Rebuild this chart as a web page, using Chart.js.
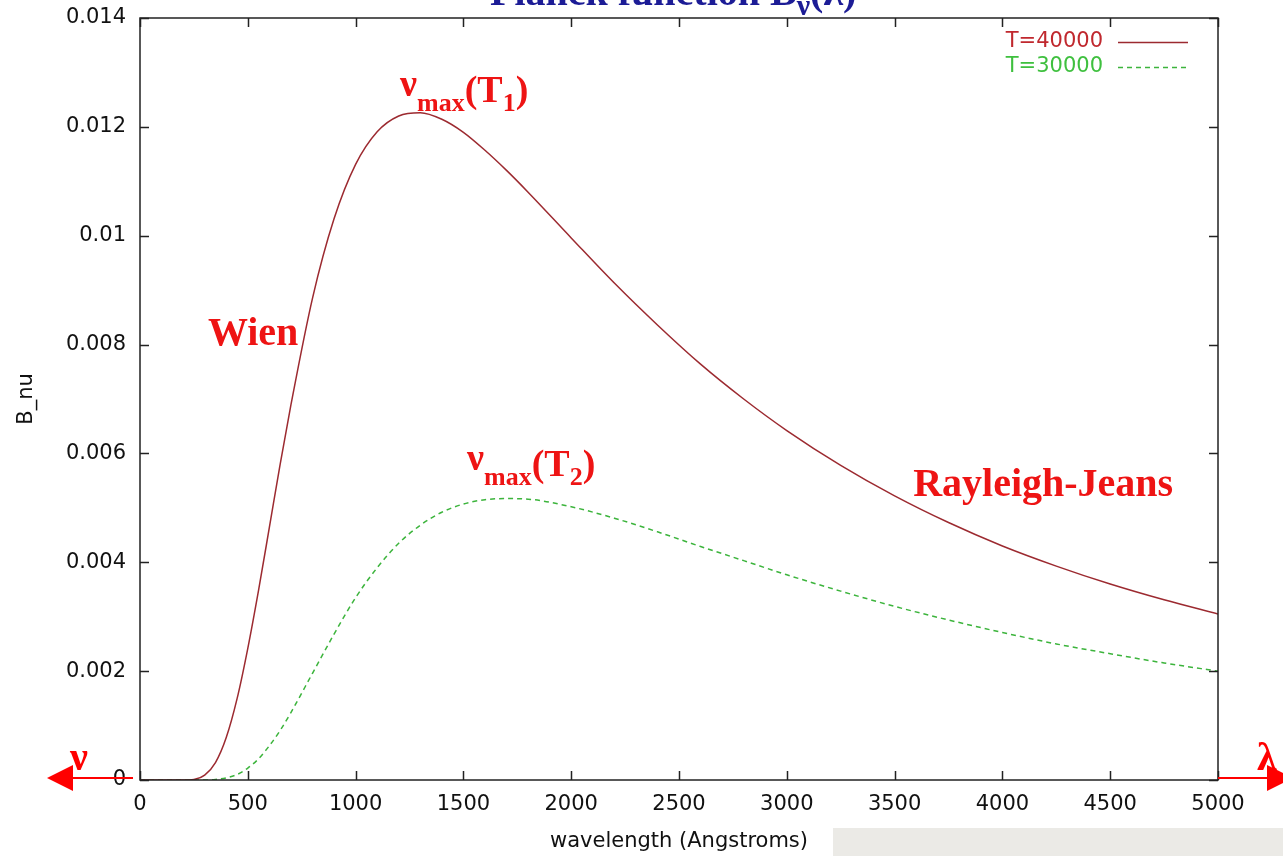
<!DOCTYPE html>
<html>
<head>
<meta charset="utf-8">
<title>Planck function</title>
<script src="https://cdn.jsdelivr.net/npm/chart.js@4.4.1/dist/chart.umd.min.js"></script>
<style>
  html, body { margin: 0; padding: 0; background: #fff; }
  #chart { display: block; }
</style>
</head>
<body>
<canvas id="chart" width="1283" height="856"></canvas>
<script>
// values (B_nu vs wavelength in Angstroms)
var wavelength = [0, 100, 200, 250, 300, 350, 400, 450, 500, 550, 600, 650, 700, 800, 900, 1000, 1100, 1200, 1300, 1400, 1500, 1600, 1700, 1800, 2000, 2200, 2400, 2600, 2800, 3000, 3250, 3500, 3750, 4000, 4250, 4500, 4750, 5000];
var bnuT40000 = [0, 0, 0, 0.00001, 0.00009, 0.00032, 0.00078, 0.00149, 0.00242, 0.00349, 0.00464, 0.0058, 0.00689, 0.00885, 0.01031, 0.01131, 0.01191, 0.0122, 0.01226, 0.01214, 0.0119, 0.01157, 0.0112, 0.0108, 0.00996, 0.00913, 0.00836, 0.00764, 0.007, 0.00642, 0.00578, 0.00522, 0.00473, 0.0043, 0.00393, 0.0036, 0.00331, 0.00305];
var bnuT30000 = [0, 0, 0, 0, 0, 0.00001, 0.00004, 0.0001, 0.00022, 0.00039, 0.00063, 0.00091, 0.00124, 0.00196, 0.00268, 0.00335, 0.0039, 0.00435, 0.00468, 0.00492, 0.00507, 0.00515, 0.00517, 0.00516, 0.00502, 0.00481, 0.00456, 0.00429, 0.00403, 0.00377, 0.00347, 0.00319, 0.00294, 0.00271, 0.0025, 0.00232, 0.00215, 0.002];
var seriesLabels = ['T=40000', 'T=30000'];
var xTicks = [0, 500, 1000, 1500, 2000, 2500, 3000, 3500, 4000, 4500, 5000];
var yTicks = [0, 0.002, 0.004, 0.006, 0.008, 0.01, 0.012, 0.014];

var axisFont = { family: 'DejaVu Sans', size: 21 };
var serif = '"Liberation Serif", "Times New Roman", serif';
var annoRed = '#ee1414';

function pairs(ys) {
  return wavelength.map(function (w, i) { return { x: w, y: ys[i] }; });
}

// gnuplot style frame, inward ticks and key
var gnuplotFrame = {
  id: 'gnuplotFrame',
  beforeDraw: function (chart) {
    var ctx = chart.ctx;
    ctx.save();
    ctx.fillStyle = '#ebeae6';
    ctx.fillRect(833, 828, chart.width - 833, chart.height - 828);
    ctx.restore();
  },
  afterDatasetsDraw: function (chart) {
    var ctx = chart.ctx, a = chart.chartArea;
    var sx = chart.scales.x, sy = chart.scales.y;
    ctx.save();
    ctx.strokeStyle = '#222';
    ctx.lineWidth = 1.5;
    ctx.strokeRect(a.left, a.top, a.right - a.left, a.bottom - a.top);
    var tl = 9;
    ctx.beginPath();
    xTicks.forEach(function (v) {
      var px = Math.round(sx.getPixelForValue(v)) + 0.5;
      ctx.moveTo(px, a.bottom); ctx.lineTo(px, a.bottom - tl);
      ctx.moveTo(px, a.top); ctx.lineTo(px, a.top + tl);
    });
    yTicks.forEach(function (v) {
      var py = Math.round(sy.getPixelForValue(v)) + 0.5;
      ctx.moveTo(a.left, py); ctx.lineTo(a.left + tl, py);
      ctx.moveTo(a.right, py); ctx.lineTo(a.right - tl, py);
    });
    ctx.stroke();

    // key
    ctx.font = '21px "DejaVu Sans"';
    ctx.textAlign = 'right';
    ctx.textBaseline = 'middle';
    var keyText = ['#c0282e', '#3fc03f'];
    chart.data.datasets.forEach(function (ds, i) {
      var y = a.top + 24 + i * 25;
      ctx.fillStyle = keyText[i];
      ctx.fillText(ds.label, a.right - 115, y);
      ctx.strokeStyle = ds.borderColor;
      ctx.lineWidth = 1.5;
      ctx.setLineDash(ds.borderDash || []);
      ctx.beginPath();
      ctx.moveTo(a.right - 100, y + 0.5);
      ctx.lineTo(a.right - 30, y + 0.5);
      ctx.stroke();
    });
    ctx.setLineDash([]);
    ctx.restore();
  },
  afterDraw: function (chart) {
    var ctx = chart.ctx, a = chart.chartArea;
    var sx = chart.scales.x, sy = chart.scales.y;
    ctx.save();

    // title, clipped by the top of the page
    ctx.fillStyle = '#1c1c96';
    ctx.textBaseline = 'alphabetic';
    ctx.textAlign = 'left';
    ctx.font = 'bold 40px ' + serif;
    var tx = 490;
    ctx.fillText('Planck function B', tx, 5);
    tx += ctx.measureText('Planck function B').width;
    ctx.font = 'bold 30px ' + serif;
    ctx.fillText('\u03bd', tx, 15);
    tx += ctx.measureText('\u03bd').width;
    ctx.font = 'bold 40px ' + serif;
    ctx.fillText('(\u03bb)', tx, 5);

    // annotations
    ctx.fillStyle = annoRed;
    ctx.font = 'bold 40px ' + serif;
    ctx.fillText('Wien', sx.getPixelForValue(315), sy.getPixelForValue(0.00799));
    ctx.fillText('Rayleigh-Jeans', sx.getPixelForValue(3586), sy.getPixelForValue(0.00522));

    function numax(lam, b, sub) {
      var x = sx.getPixelForValue(lam), y = sy.getPixelForValue(b);
      ctx.font = 'bold 38px ' + serif;
      ctx.fillText('\u03bd', x, y - 6);
      x += ctx.measureText('\u03bd').width;
      ctx.font = 'bold 26px ' + serif;
      ctx.fillText('max', x, y + 9);
      x += ctx.measureText('max').width;
      ctx.font = 'bold 38px ' + serif;
      ctx.fillText('(T', x, y);
      x += ctx.measureText('(T').width;
      ctx.font = 'bold 26px ' + serif;
      ctx.fillText(sub, x, y + 9);
      x += ctx.measureText(sub).width;
      ctx.font = 'bold 38px ' + serif;
      ctx.fillText(')', x, y);
    }
    numax(1206, 0.01246, '1');
    numax(1517, 0.00558, '2');

    // nu / lambda arrows along the wavelength axis
    var ay = a.bottom - 2;
    ctx.strokeStyle = '#ff0000';
    ctx.fillStyle = '#ff0000';
    ctx.lineWidth = 2;
    ctx.beginPath();
    ctx.moveTo(a.left - 7, ay); ctx.lineTo(70, ay);
    ctx.moveTo(a.right, ay); ctx.lineTo(a.right + 50, ay);
    ctx.stroke();
    ctx.beginPath();
    ctx.moveTo(47, ay); ctx.lineTo(73, ay - 13); ctx.lineTo(73, ay + 13); ctx.closePath();
    ctx.fill();
    ctx.beginPath();
    ctx.moveTo(a.right + 75, ay); ctx.lineTo(a.right + 49, ay - 13); ctx.lineTo(a.right + 49, ay + 13); ctx.closePath();
    ctx.fill();
    ctx.font = 'bold 40px ' + serif;
    ctx.fillText('\u03bd', 70, ay - 8);
    ctx.fillText('\u03bb', a.right + 39, ay - 8);
    ctx.restore();
  }
};

new Chart('chart', {
  type: 'line',
  data: {
    datasets: [
      {
        label: seriesLabels[0],
        data: pairs(bnuT40000),
        borderColor: '#9c2a30',
        borderWidth: 1.5,
        pointRadius: 0,
        cubicInterpolationMode: 'monotone',
        fill: false
      },
      {
        label: seriesLabels[1],
        data: pairs(bnuT30000),
        borderColor: '#3cb43c',
        borderWidth: 1.5,
        borderDash: [5, 4],
        pointRadius: 0,
        cubicInterpolationMode: 'monotone',
        fill: false
      }
    ]
  },
  options: {
    responsive: false,
    animation: false,
    layout: { padding: { top: 18, right: 65, left: 0, bottom: 0 } },
    plugins: {
      legend: { display: false },
      tooltip: { enabled: false }
    },
    scales: {
      x: {
        type: 'linear',
        min: 0,
        max: 5000,
        afterBuildTicks: function (s) { s.ticks = xTicks.map(function (v) { return { value: v }; }); },
        afterFit: function (s) { s.height = 76; s.paddingLeft = 0; s.paddingRight = 0; },
        grid: { display: false, drawTicks: false },
        border: { display: false },
        ticks: {
          padding: 12, font: axisFont, color: '#111', maxRotation: 0, autoSkip: false,
          callback: function (v) { return String(v); }
        },
        title: { display: true, text: 'wavelength (Angstroms)', font: axisFont, color: '#111', padding: { top: 4, bottom: 2 } }
      },
      y: {
        min: 0,
        max: 0.014,
        afterBuildTicks: function (s) { s.ticks = yTicks.map(function (v) { return { value: v }; }); },
        afterFit: function (s) { s.width = 140; s.paddingTop = 0; s.paddingBottom = 0; },
        grid: { display: false, drawTicks: false },
        border: { display: false },
        ticks: {
          padding: 14, font: axisFont, color: '#111', autoSkip: false,
          callback: function (v) { return String(Number(v.toFixed(3))); }
        },
        title: { display: true, text: 'B_nu', font: axisFont, color: '#111', padding: { top: 14, bottom: 0 } }
      }
    }
  },
  plugins: [gnuplotFrame]
});
</script>
</body>
</html>
